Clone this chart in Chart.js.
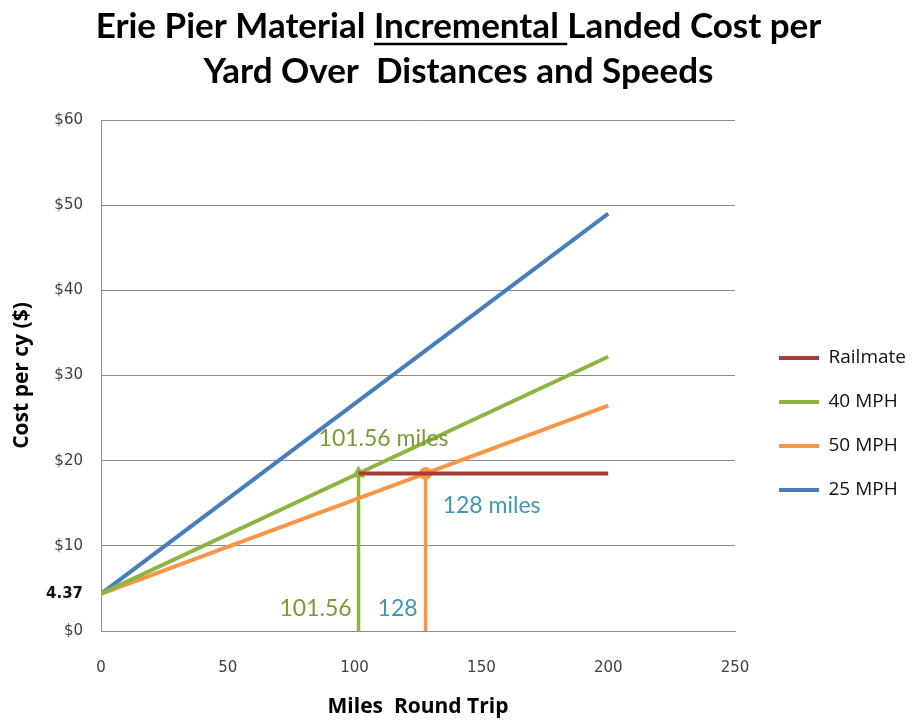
<!DOCTYPE html>
<html>
<head>
<meta charset="utf-8">
<script src="https://cdn.jsdelivr.net/npm/chart.js@4.4.0/dist/chart.umd.min.js"></script>
<style>
  html, body { margin: 0; padding: 0; background: #ffffff; }
  #wrap { width: 917px; height: 723px; }
</style>
</head>
<body>
<div id="wrap"><canvas id="chart"></canvas></div>
<script>
// Title text; the middle word of the first line is underlined
const titleLines = ['Erie Pier Material Incremental Landed Cost per', 'Yard Over  Distances and Speeds'];
const underlinedWord = 'Incremental ';

// Miles round trip at the ends of each cost line
const distances = [0, 200];
// Cost per cubic yard ($) at those distances
const cost40mph = [4.37, 32.2];
const cost50mph = [4.37, 26.45];
const cost25mph = [4.37, 49.0];

// Railmate flat cost, drawn from the 40 MPH break-even out to 200 miles
const railmateMiles = [101.56, 200];
const railmateCost = [18.5, 18.5];

// Break-even distances where the truck lines meet the Railmate cost
const breakEvenMiles = [101.56, 128];
const breakEvenCost = 18.5;

// Axis ticks
const xTicks = [0, 50, 100, 150, 200, 250];
const yTicks = [0, 10, 20, 30, 40, 50, 60];
const startCost = 4.37;

const seriesNames = ['Railmate', '40 MPH', '50 MPH', '25 MPH'];
const colors = { railmate: '#a93b37', green: '#8db340', orange: '#f79646', blue: '#4a7ebb', teal: '#3f97b0', greenText: '#7a9a38' };

const pairs = (xs, ys) => xs.map((x, i) => ({ x, y: ys[i] }));

const tickFamily = '"DejaVu Sans", Verdana, sans-serif';
const textFamily = 'Lato, "Open Sans", sans-serif';
const labelFamily = '"Open Sans", Lato, sans-serif';

// Plot occupies x 101..735; the rest on the right holds the legend
const plotRightGap = 182;

// Underline under one word of the chart title
const titleUnderline = {
  id: 'titleUnderline',
  afterDraw(chart) {
    const tb = chart.titleBlock;
    if (!tb) return;
    const ctx = chart.ctx;
    const font = Chart.helpers.toFont(tb.options.font);
    const pad = Chart.helpers.toPadding(tb.options.padding);
    ctx.save();
    ctx.font = font.string;
    const line = titleLines[0];
    const idx = line.indexOf(underlinedWord);
    const full = ctx.measureText(line).width;
    const cx = (tb.left + tb.right) / 2;
    const x0 = cx - full / 2 + ctx.measureText(line.slice(0, idx)).width;
    const w = ctx.measureText(underlinedWord).width;
    const y = tb.top + pad.top + font.lineHeight / 2 + font.size * 0.45;
    ctx.fillStyle = '#000000';
    ctx.fillRect(x0, y, w, 2.5);
    ctx.restore();
  }
};

// Break-even labels next to the markers and along the x axis
const breakEvenLabels = {
  id: 'breakEvenLabels',
  afterDatasetsDraw(chart) {
    const ctx = chart.ctx, xs = chart.scales.x, ys = chart.scales.y;
    const gx = xs.getPixelForValue(breakEvenMiles[0]);
    const ox = xs.getPixelForValue(breakEvenMiles[1]);
    const cy = ys.getPixelForValue(breakEvenCost);
    const by = ys.getPixelForValue(0);
    ctx.save();
    ctx.font = '23px ' + textFamily;
    ctx.textAlign = 'center';
    ctx.textBaseline = 'middle';
    ctx.fillStyle = colors.greenText;
    ctx.fillText(breakEvenMiles[0] + ' miles', gx + 25, cy - 35);
    ctx.fillText(String(breakEvenMiles[0]), gx - 43, by - 22);
    ctx.fillStyle = colors.teal;
    ctx.fillText(breakEvenMiles[1] + ' miles', ox + 66, cy + 32);
    ctx.fillText(String(breakEvenMiles[1]), ox - 28, by - 22);
    ctx.restore();
  }
};

// Legend sits to the right of the plot, centred between plot top and page bottom
const legendPlacement = {
  id: 'legendPlacement',
  afterLayout(chart) {
    const lg = chart.legend, ca = chart.chartArea;
    const pad = lg.options.labels.padding;
    lg.left = ca.right + 44 - pad;
    lg.right = chart.width;
    lg.width = lg.right - lg.left;
    lg.top = ca.top + 2;
    lg.bottom = chart.height + 3;
    lg.height = lg.bottom - lg.top;
  }
};

const lineSet = (label, xs, ys, color) => ({
  label,
  data: pairs(xs, ys),
  borderColor: color,
  backgroundColor: color,
  borderWidth: 4,
  pointRadius: 0,
  tension: 0
});

new Chart(document.getElementById('chart'), {
  type: 'line',
  data: {
    datasets: [
      lineSet(seriesNames[0], railmateMiles, railmateCost, colors.railmate),
      lineSet(seriesNames[1], distances, cost40mph, colors.green),
      lineSet(seriesNames[2], distances, cost50mph, colors.orange),
      lineSet(seriesNames[3], distances, cost25mph, colors.blue),
      {
        label: 'break-even 40 MPH',
        data: pairs([breakEvenMiles[0], breakEvenMiles[0]], [0, breakEvenCost]),
        borderColor: colors.green,
        backgroundColor: colors.green,
        borderWidth: 3.5,
        pointStyle: 'triangle',
        pointRadius: [0, 7],
        pointBorderWidth: 1
      },
      {
        label: 'break-even 50 MPH',
        data: pairs([breakEvenMiles[1], breakEvenMiles[1]], [0, breakEvenCost]),
        borderColor: colors.orange,
        backgroundColor: colors.orange,
        borderWidth: 3.5,
        pointStyle: 'circle',
        pointRadius: [0, 6],
        pointBorderWidth: 1
      }
    ]
  },
  options: {
    responsive: true,
    maintainAspectRatio: false,
    animation: false,
    events: [],
    layout: { padding: 0 },
    plugins: {
      title: {
        display: true,
        text: titleLines,
        color: '#000000',
        font: { family: textFamily, size: 35, weight: 'bold', lineHeight: 45 / 35 },
        padding: { top: 4.5, bottom: 25.5 }
      },
      legend: {
        position: 'chartArea',
        align: 'center',
        labels: {
          filter: (item) => item.datasetIndex < seriesNames.length,
          usePointStyle: true,
          pointStyle: 'line',
          pointStyleWidth: 40,
          padding: 25,
          color: '#111111',
          font: { family: labelFamily, size: 19 }
        }
      },
      tooltip: { enabled: false }
    },
    scales: {
      x: {
        type: 'linear',
        min: 0,
        max: 250,
        afterBuildTicks: (scale) => { scale.ticks = xTicks.map(v => ({ value: v })); },
        afterFit: (scale) => { scale.height = 92; scale.paddingRight = plotRightGap; },
        grid: { display: false },
        border: { display: true, color: '#8c8c8c', width: 1 },
        ticks: { color: '#404040', padding: 20, maxRotation: 0, autoSkip: false, font: { family: tickFamily, size: 15 } },
        title: {
          display: true,
          text: 'Miles  Round Trip',
          color: '#000000',
          font: { family: labelFamily, size: 21, weight: 'bold' },
          padding: { top: 0, bottom: 3.4 }
        }
      },
      y: {
        min: 0,
        max: 60,
        afterBuildTicks: (scale) => {
          scale.ticks = yTicks.concat([startCost]).sort((a, b) => a - b).map(v => ({ value: v }));
        },
        afterFit: (scale) => { scale.width = 101; },
        grid: {
          drawTicks: false,
          color: (ctx) => (ctx.tick && ctx.tick.value === startCost ? 'rgba(0,0,0,0)' : '#8c8c8c'),
          lineWidth: 1
        },
        border: { display: true, color: '#8c8c8c', width: 1 },
        ticks: {
          autoSkip: false,
          padding: 18,
          callback: (v) => (v === startCost ? String(startCost) : '$' + v),
          color: (ctx) => (ctx.tick && ctx.tick.value === startCost ? '#111111' : '#404040'),
          font: (ctx) => (ctx.tick && ctx.tick.value === startCost
            ? { family: tickFamily, size: 15, weight: 'bold' }
            : { family: tickFamily, size: 15 })
        },
        title: {
          display: true,
          text: 'Cost per cy ($)',
          color: '#000000',
          font: { family: labelFamily, size: 21, weight: 'bold' },
          padding: { top: 9.4, bottom: 0 }
        }
      }
    }
  },
  plugins: [titleUnderline, breakEvenLabels, legendPlacement]
});
</script>
</body>
</html>
